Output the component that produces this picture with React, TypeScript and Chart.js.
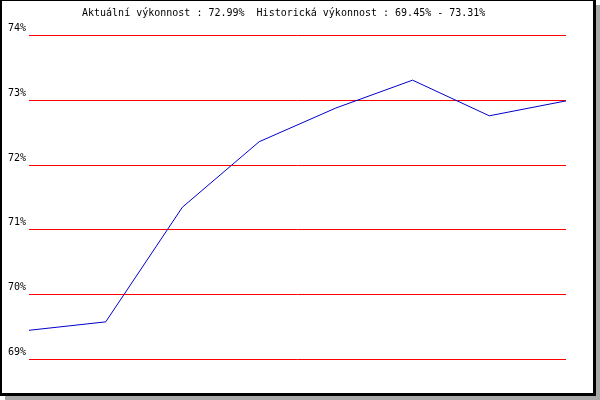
import React, { useEffect, useRef } from "react";
import { Chart, registerables } from "chart.js";

Chart.register(...registerables);

const categories = ["1", "2", "3", "4", "5", "6", "7", "8"];
const performance = [69.45, 69.58, 71.35, 72.36, 72.88, 73.31, 72.76, 72.99];
const yTicks = [69, 70, 71, 72, 73, 74];
const titleText = "Aktuální výkonnost : 72.99%  Historická výkonnost : 69.45% - 73.31%";

const framePlugin = {
  id: "frame",
  beforeDraw(chart: any) {
    const c = chart.ctx;
    const w = chart.width;
    const h = chart.height;
    c.save();
    c.fillStyle = "#a8a8a8";
    c.fillRect(5, 5, w - 5, h - 5);
    c.fillStyle = "#ffffff";
    c.fillRect(0, 0, w - 4, h - 4);
    c.fillStyle = "#000000";
    c.fillRect(0, 0, 2, h - 4);
    c.fillRect(0, 0, w - 4, 1);
    c.fillRect(w - 7, 0, 3, h - 4);
    c.fillRect(0, h - 7, w - 4, 3);
    c.restore();
  },
  afterDraw(chart: any) {
    const c = chart.ctx;
    c.save();
    c.fillStyle = "#000000";
    c.font = "10px 'DejaVu Sans Mono'";
    c.textBaseline = "middle";
    c.textAlign = "left";
    c.fillText(titleText, 82, 13);
    c.restore();
  },
};

export default function App() {
  const ref = useRef<HTMLCanvasElement>(null);
  useEffect(() => {
    if (!ref.current) return;
    const chart = new Chart(ref.current, {
      type: "line",
      data: {
        labels: categories,
        datasets: [
          {
            data: performance,
            borderColor: "#0000cc",
            borderWidth: 1,
            pointRadius: 0,
            tension: 0,
            fill: false,
          },
        ],
      },
      options: {
        animation: false,
        responsive: false,
        devicePixelRatio: 1,
        layout: { padding: { top: 35.45, bottom: 40.55, left: 0, right: 34 } },
        plugins: {
          legend: { display: false },
          tooltip: { enabled: false },
          title: { display: false },
        },
        scales: {
          x: { display: false, offset: false },
          y: {
            min: 69,
            max: 74,
            afterBuildTicks: (s: any) => {
              s.ticks = yTicks.map((v) => ({ value: v }));
            },
            afterFit: (s: any) => {
              s.width = 29;
            },
            border: { display: false },
            grid: {
              drawTicks: false,
              lineWidth: 1,
              color: "#ff0000",
            },
            ticks: {
              padding: 3,
              labelOffset: -7,
              color: "#000000",
              font: { family: "'DejaVu Sans Mono'", size: 10 },
              callback: (v: any) => `${v}%`,
            },
          },
        },
      },
      plugins: [framePlugin],
    });
    return () => chart.destroy();
  }, []);
  return (
    <div style={{ position: "fixed", left: 0, top: 0, width: 600, height: 400 }}>
      <canvas ref={ref} width={600} height={400} style={{ width: 600, height: 400 }} />
    </div>
  );
}
